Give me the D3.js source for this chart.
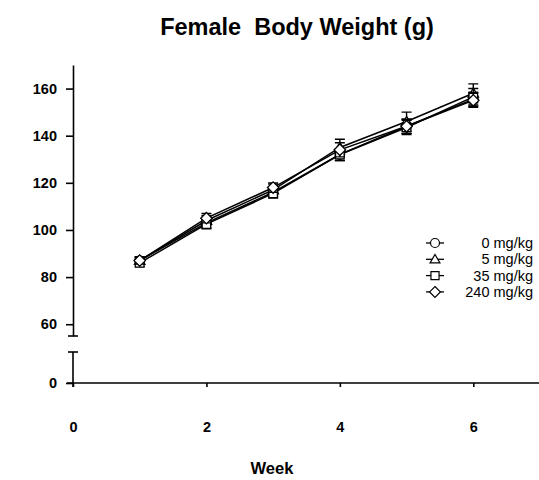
<!DOCTYPE html>
<html>
<head>
<meta charset="utf-8">
<script src="https://cdn.jsdelivr.net/npm/d3@7"></script>
<style>
  body { margin: 0; background: #fff; }
  svg { font-family: 'Liberation Sans', Arial, sans-serif; }
  .axis path, .axis line { stroke: #000; stroke-width: 1.6; }
  .axis text { font-weight: bold; font-size: 14.5px; fill: #000; }
</style>
</head>
<body>
<div id="chart"></div>
<script>
// data
const weeks = [1, 2, 3, 4, 5, 6]
const doseLabels = ['0 mg/kg', '5 mg/kg', '35 mg/kg', '240 mg/kg']
const dose0 = [87, 103, 116, 132, 144, 155.5]
const dose5 = [87, 104, 117, 135, 146, 158]
const dose35 = [86, 102.5, 115.5, 132, 143.5, 156.5]
const dose240 = [87, 105, 118, 134, 144, 155]
const err0 = [1.5, 2, 2, 2.5, 3, 3]
const err5 = [1.5, 2, 2.5, 3.5, 4, 4]
const err35 = [1.5, 2, 2, 2.5, 3, 3.5]
const err240 = [1.5, 2, 2, 3, 3, 3]
const xTicks = [0, 2, 4, 6]
const yTicksTop = [60, 80, 100, 120, 140, 160]
const yTicksBottom = [0]

const series = [
  { name: doseLabels[0], values: dose0, err: err0, shape: 'circle' },
  { name: doseLabels[1], values: dose5, err: err5, shape: 'triangle' },
  { name: doseLabels[2], values: dose35, err: err35, shape: 'square' },
  { name: doseLabels[3], values: dose240, err: err240, shape: 'diamond' }
]

const width = 539
const height = 480

const svg = d3.select('#chart').append('svg')
  .attr('width', width)
  .attr('height', height)

const x = d3.scaleLinear().domain([0, 7]).range([73, 540])
const yTop = d3.scaleLinear().domain([55, 170]).range([336, 65])
const yBottom = d3.scaleLinear().domain([0, 13]).range([383, 352])

// title
svg.append('text')
  .attr('x', 297)
  .attr('y', 35)
  .attr('text-anchor', 'middle')
  .attr('font-size', 23.5)
  .attr('font-weight', 'bold')
  .text('Female\u00a0 Body Weight (g)')

// y axis, upper part
svg.append('g')
  .attr('class', 'axis')
  .attr('transform', 'translate(' + x(0) + ',0)')
  .call(d3.axisLeft(yTop).tickValues(yTicksTop).tickSize(7).tickSizeOuter(0).tickPadding(9))

// y axis, lower part
svg.append('g')
  .attr('class', 'axis')
  .attr('transform', 'translate(' + x(0) + ',0)')
  .call(d3.axisLeft(yBottom).tickValues(yTicksBottom).tickSize(7).tickSizeOuter(0).tickPadding(9))
  .select('.domain').remove()

svg.append('line')
  .attr('x1', x(0)).attr('x2', x(0))
  .attr('y1', yBottom(13)).attr('y2', yBottom(0) + 4)
  .attr('stroke', '#000').attr('stroke-width', 1.6)

// break caps
const caps = [yTop(55), yBottom(13)]
svg.selectAll('.break-cap')
  .data(caps)
  .enter()
  .append('line')
  .attr('class', 'break-cap')
  .attr('x1', x(0) - 5)
  .attr('x2', x(0) + 5)
  .attr('y1', (d) => d)
  .attr('y2', (d) => d)
  .attr('stroke', '#000')
  .attr('stroke-width', 1.6)

// x axis
const xAxisG = svg.append('g')
  .attr('class', 'axis')
  .attr('transform', 'translate(0,' + yBottom(0) + ')')
  .call(d3.axisBottom(x).tickValues(xTicks).tickSize(4).tickSizeOuter(0).tickPadding(35).tickFormat(d3.format('d')))
xAxisG.select('.domain').attr('d', 'M' + (x(0) - 6) + ',0H' + width)

svg.append('text')
  .attr('x', 272)
  .attr('y', 474)
  .attr('text-anchor', 'middle')
  .attr('font-size', 16.5)
  .attr('font-weight', 'bold')
  .text('Week')

// marker shapes
function markerPath (shape, s) {
  if (shape === 'circle') {
    return d3.symbol(d3.symbolCircle, s * s * Math.PI / 4)()
  }
  if (shape === 'triangle') {
    const h = s * 0.9
    return 'M0,' + (-h * 0.6) + 'L' + (s * 0.55) + ',' + (h * 0.45) + 'L' + (-s * 0.55) + ',' + (h * 0.45) + 'Z'
  }
  if (shape === 'square') {
    const a = s * 0.45
    return 'M' + (-a) + ',' + (-a) + 'H' + a + 'V' + a + 'H' + (-a) + 'Z'
  }
  const d = s * 0.6
  return 'M0,' + (-d) + 'L' + d + ',0L0,' + d + 'L' + (-d) + ',0Z'
}

const line = d3.line()
  .x((d, i) => x(weeks[i]))
  .y((d) => yTop(d))

const plot = svg.append('g')

// lines
plot.selectAll('.series-line')
  .data(series)
  .enter()
  .append('path')
  .attr('class', 'series-line')
  .attr('d', (d) => line(d.values))
  .attr('fill', 'none')
  .attr('stroke', '#000')
  .attr('stroke-width', 1.5)

// error bars and markers
series.forEach((s) => {
  const g = plot.append('g')
  const pts = s.values.map((v, i) => ({ x: weeks[i], y: v, e: s.err[i] }))

  g.selectAll('.err')
    .data(pts)
    .enter()
    .append('path')
    .attr('d', (d) => {
      const cx = x(d.x)
      const t = yTop(d.y + d.e)
      const b = yTop(d.y - d.e)
      return 'M' + cx + ',' + t + 'V' + b +
        'M' + (cx - 5) + ',' + t + 'H' + (cx + 5) +
        'M' + (cx - 5) + ',' + b + 'H' + (cx + 5)
    })
    .attr('stroke', '#000')
    .attr('stroke-width', 1.4)
    .attr('fill', 'none')

  g.selectAll('.mark')
    .data(pts)
    .enter()
    .append('path')
    .attr('transform', (d) => 'translate(' + x(d.x) + ',' + yTop(d.y) + ')')
    .attr('d', markerPath(s.shape, 9.5))
    .attr('fill', '#fff')
    .attr('stroke', '#000')
    .attr('stroke-width', 1.3)
})

// legend
const legend = svg.append('g')
  .attr('transform', 'translate(435,243)')

const item = legend.selectAll('.item')
  .data(series)
  .enter()
  .append('g')
  .attr('class', 'item')
  .attr('transform', (d, i) => 'translate(0,' + (i * 16.3) + ')')

item.append('line')
  .attr('x1', -9).attr('x2', 9)
  .attr('stroke', '#000').attr('stroke-width', 1.3)

item.append('path')
  .attr('d', (d) => markerPath(d.shape, 9))
  .attr('fill', '#fff')
  .attr('stroke', '#000')
  .attr('stroke-width', 1.2)

item.append('text')
  .attr('x', 98)
  .attr('y', 5)
  .attr('text-anchor', 'end')
  .attr('font-size', 14.5)
  .text((d) => d.name)
</script>
</body>
</html>
